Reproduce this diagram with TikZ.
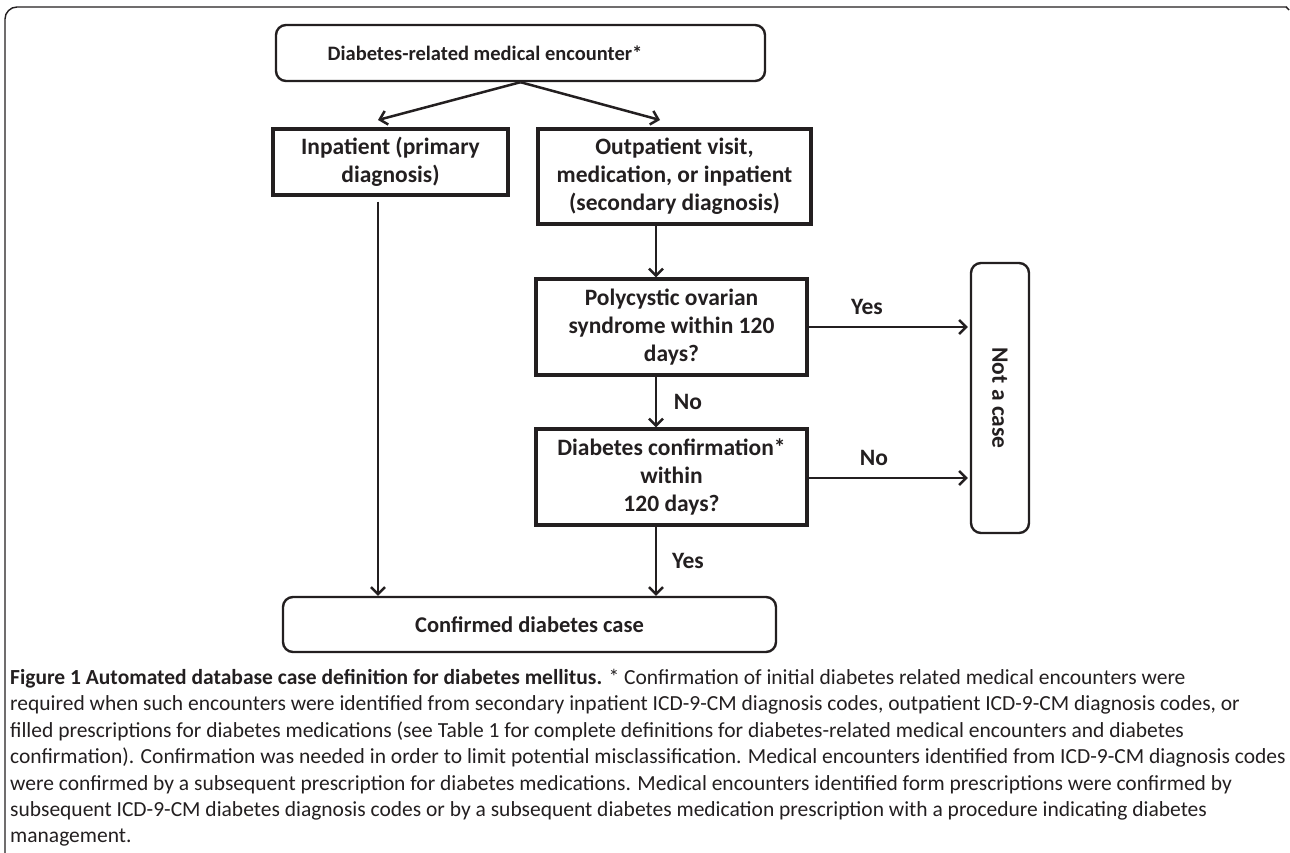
\documentclass[tikz,border=0pt]{standalone}
\usepackage{fontspec}
\setmainfont{Carlito}
\usetikzlibrary{arrows.meta}
\definecolor{ink}{HTML}{231F20}
\tikzset{
  sqbox/.style={draw=ink, line width=3.3pt, inner sep=0pt, align=center, text=ink,
    font=\bfseries\fontsize{23.5}{28}\selectfont},
  rdbox/.style={draw=ink, line width=2.4pt, rounded corners=10pt, inner sep=0pt, align=center, text=ink,
    font=\bfseries\fontsize{22.5}{28}\selectfont},
  arr/.style={draw=ink, line width=2.5pt, -{Straight Barb[length=7pt,width=14pt]}},
  lbl/.style={text=ink, inner sep=0pt, font=\bfseries\fontsize{23.5}{28}\selectfont},
}
\begin{document}
\begin{tikzpicture}[x=1pt,y=-1pt]
\useasboundingbox (0,0) rectangle (1290,853);
% outer frame
\draw[ink, line width=1.4pt, rounded corners=12pt] (5,853) -- (5,7) -- (1287,7);
\draw[ink, line width=1.4pt] (1286,7) -- (1289,10);
% boxes
\node[rdbox, minimum width=489pt, minimum height=56pt] (top) at (520.5,53) {};
\node[lbl, font=\bfseries\fontsize{20.5}{24}\selectfont] (toptext) at (485,53) {Diabetes-related medical encounter*};
\node[sqbox, minimum width=235pt, minimum height=66pt] (inp) at (390.5,162) {Inpatient (primary\\diagnosis)};
\node[sqbox, minimum width=273pt, minimum height=95pt] (outp) at (674.5,176.5) {Outpatient visit,\\medication, or inpatient\\(secondary diagnosis)};
\node[sqbox, minimum width=271pt, minimum height=96pt] (pcos) at (671.5,327) {Polycystic ovarian\\syndrome within 120\\days?};
\node[sqbox, minimum width=271pt, minimum height=96pt] (conf) at (671.5,477) {Diabetes confirmation*\\within\\120 days?};
\node[rdbox, minimum width=58pt, minimum height=270pt] (nac) at (1000,398) {};
\node[lbl, rotate=-90] (nactext) at (nac.center) {Not a case};
\node[rdbox, minimum width=493pt, minimum height=55pt] (case) at (529.5,624.5) {Confirmed diabetes case};
% connectors
\coordinate (tl) at (378,120);
\coordinate (tr) at (660,120);
\draw[arr] (top.south) -- (tl);
\draw[arr] (top.south) -- (tr);
\draw[arr] (outp.south -| 656,0) -- (pcos.north -| 656,0);
\draw[arr] (pcos.south -| 656,0) -- (conf.north -| 656,0);
\draw[arr] (conf.south -| 656,0) -- (case.north -| 656,0);
\draw[arr] ([yshift=-5pt]inp.south -| 378,0) -- (case.north -| 378,0);
\draw[arr] (pcos.east) -- ([xshift=-2pt]nac.west |- pcos.east);
\draw[arr] (conf.east |- 0,478) -- ([xshift=-2pt]nac.west |- 0,478);
% labels
\node[lbl] (no1) at (688,402) {No};
\node[lbl] (yes1) at (688,561) {Yes};
\node[lbl] (yes2) at (867,307) {Yes};
\node[lbl] (no2) at (874,458) {No};
% caption
\node[anchor=north west, inner sep=0pt, align=left, text=ink, font=\fontsize{21.5}{26.4}\selectfont] (cap) at (10,669)
{\textbf{Figure 1 Automated database case definition for diabetes mellitus.} * Confirmation of initial diabetes related medical encounters were\\
required when such encounters were identified from secondary inpatient ICD-9-CM diagnosis codes, outpatient ICD-9-CM diagnosis codes, or\\
filled prescriptions for diabetes medications (see Table 1 for complete definitions for diabetes-related medical encounters and diabetes\\
confirmation). Confirmation was needed in order to limit potential misclassification. Medical encounters identified from ICD-9-CM diagnosis codes\\
were confirmed by a subsequent prescription for diabetes medications. Medical encounters identified form prescriptions were confirmed by\\
subsequent ICD-9-CM diabetes diagnosis codes or by a subsequent diabetes medication prescription with a procedure indicating diabetes\\
management.};
\end{tikzpicture}
\end{document}
